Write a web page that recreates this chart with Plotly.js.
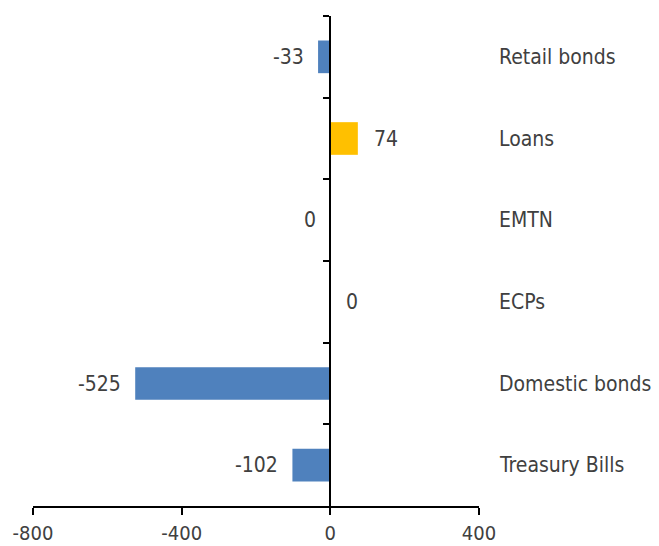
<!DOCTYPE html>
<html>
<head>
<meta charset="utf-8">
<script src="https://cdn.plot.ly/plotly-3.0.1.min.js"></script>
<style>html,body{margin:0;padding:0;background:#fff;}#chart{width:659px;height:546px;}</style>
</head>
<body>
<div id="chart"></div>
<script>
// Data (top to bottom)
const categories = ["Retail bonds", "Loans", "EMTN", "ECPs", "Domestic bonds", "Treasury Bills"];
const values = [-33, 74, -0.2, 0, -525, -102];
const tickVals = [-800, -400, 0, 400];
const tickText = ["-800", "-400", "0", "400"];

const barColors = values.map(v => v > 0 ? "#FFC000" : "#4F81BD");
const labelText = values.map(v => String(Math.round(v) === 0 ? 0 : Math.round(v)));
const FONT = "'DejaVu Sans Condensed', 'Liberation Sans', sans-serif";
const TXT = "#404040";

const dataLabels = values.map((v, i) => ({
  x: v, y: categories[i], xref: "x", yref: "y",
  text: labelText[i], showarrow: false,
  xanchor: v < 0 ? "right" : "left",
  xshift: v < 0 ? -12 : 14,
  font: {family: FONT, size: 21, color: TXT}
}));
const catLabels = categories.map(c => ({
  x: 1, y: c, xref: "paper", yref: "y",
  text: c, showarrow: false, xanchor: "left", xshift: 18,
  font: {family: FONT, size: 21, color: TXT}
}));

Plotly.newPlot("chart", [{
  type: "bar", orientation: "h",
  x: values, y: categories,
  marker: {color: barColors},
  width: 0.4,
  hoverinfo: "none"
}], {
  width: 659, height: 546,
  margin: {l: 33, r: 180, t: 16, b: 40},
  paper_bgcolor: "#fff", plot_bgcolor: "#fff",
  showlegend: false,
  font: {family: FONT, size: 21, color: TXT},
  xaxis: {
    range: [-800, 400], tickvals: tickVals, ticktext: tickText,
    showgrid: false, zeroline: false,
    showline: true, linecolor: "#000", linewidth: 2,
    ticks: "outside", ticklen: 7, tickwidth: 2, tickcolor: "#000",
    ticklabelstandoff: 1,
    tickfont: {family: FONT, size: 20, color: TXT}
  },
  yaxis: {
    type: "category", autorange: "reversed",
    anchor: "free", position: 800 / 1200, side: "left",
    showgrid: false, zeroline: false,
    showline: true, linecolor: "#000", linewidth: 2,
    ticks: "outside", tickson: "boundaries", ticklen: 6, tickwidth: 2, tickcolor: "#000",
    showticklabels: false
  },
  annotations: dataLabels.concat(catLabels)
}, {displayModeBar: false, staticPlot: true});
</script>
</body>
</html>
